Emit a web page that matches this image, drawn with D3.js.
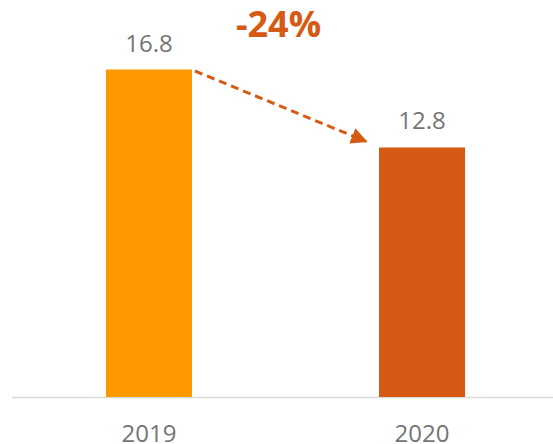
<!DOCTYPE html>
<html>
<head>
<meta charset="utf-8">
<script src="https://cdn.jsdelivr.net/npm/d3@7"></script>
<style>
  html, body { margin: 0; padding: 0; background: #fff; }
  svg { display: block; }
  text { font-family: "Open Sans", "Liberation Sans", sans-serif; }
</style>
</head>
<body>
<div id="chart"></div>
<script>
const categories = ["2019", "2020"];
const values = [16.8, 12.8];
const valueLabels = ["16.8", "12.8"];
const changeLabel = "-24%";
const barColors = ["#ff9900", "#d55a14"];

const W = 553, H = 444;
const svg = d3.select("#chart").append("svg").attr("width", W).attr("height", H);

const x = d3.scaleBand().domain(categories).range([12, 559])
  .paddingInner(0.685).paddingOuter(0.344);
const y = d3.scaleLinear().domain([0, 16.8]).range([397, 69.5]);

// axis baseline
const xAxis = d3.axisBottom(x).tickSize(0).tickPadding(0);
const ax = svg.append("g").attr("transform", `translate(0,${y(0)})`).call(xAxis);
ax.select(".domain").attr("d", `M12,0.5H${W}`).attr("stroke", "#d9d9d9").attr("stroke-width", 1.5);
ax.selectAll("text").attr("font-size", 24).attr("fill", "#757575")
  .attr("dy", null).attr("y", 45).attr("font-family", "Open Sans, Liberation Sans, sans-serif");

// bars
svg.selectAll("rect.bar").data(categories).enter().append("rect")
  .attr("class", "bar")
  .attr("x", d => x(d))
  .attr("width", x.bandwidth())
  .attr("y", (d, i) => y(values[i]))
  .attr("height", (d, i) => y(0) - y(values[i]))
  .attr("fill", (d, i) => barColors[i]);

// value labels
svg.selectAll("text.val").data(categories).enter().append("text")
  .attr("class", "val")
  .attr("x", d => x(d) + x.bandwidth() / 2)
  .attr("y", (d, i) => y(values[i]) - 18)
  .attr("text-anchor", "middle")
  .attr("font-size", 24)
  .attr("fill", "#757575")
  .text((d, i) => valueLabels[i]);

// arrow
const defs = svg.append("defs");
defs.append("marker").attr("id", "ah")
  .attr("viewBox", "0 0 10 10").attr("refX", 9).attr("refY", 5)
  .attr("markerWidth", 5.5).attr("markerHeight", 5.5).attr("markerUnits", "strokeWidth")
  .attr("orient", "auto")
  .append("path").attr("d", "M0,0L10,5L0,10Z").attr("fill", "#d55a14");

const x1 = x(categories[0]) + x.bandwidth() + 3, y1 = y(values[0]) + 1.5;
const x2 = x(categories[1]) - 13, y2 = y(values[1]) - 6;
svg.append("line")
  .attr("x1", x1).attr("y1", y1).attr("x2", x2).attr("y2", y2)
  .attr("stroke", "#d55a14").attr("stroke-width", 3)
  .attr("stroke-dasharray", "8,5")
  .attr("marker-end", "url(#ah)");

// change label
svg.append("text")
  .attr("x", (x1 + x2) / 2 - 2)
  .attr("y", 37)
  .attr("text-anchor", "middle")
  .attr("font-size", 36)
  .attr("font-weight", "bold")
  .attr("fill", "#d55a14")
  .text(changeLabel);
</script>
</body>
</html>
